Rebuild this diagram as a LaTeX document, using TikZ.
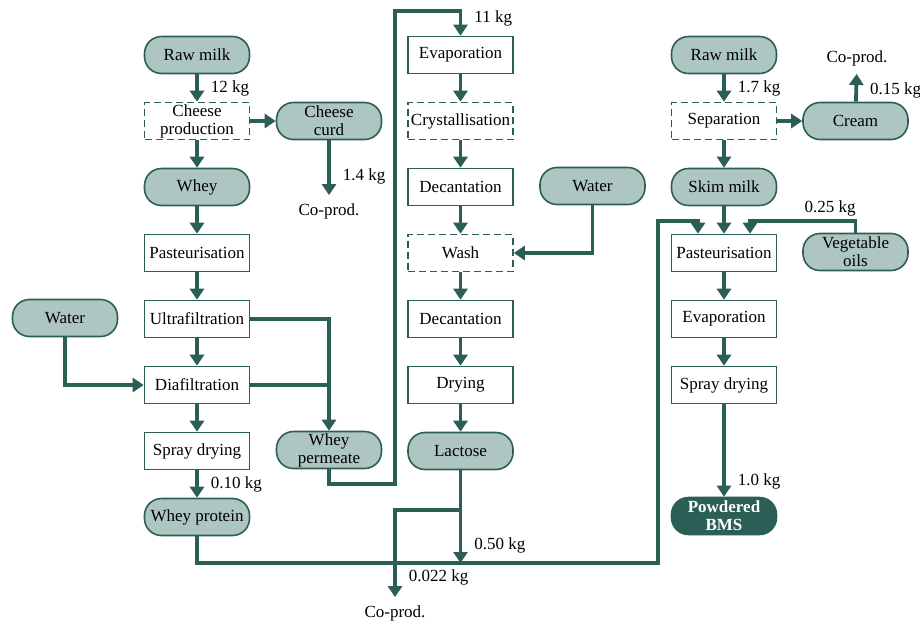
\documentclass[tikz,border=0pt]{standalone}
\usepackage{fontspec}
\setmainfont{Liberation Serif}
\usetikzlibrary{positioning,arrows.meta}
\definecolor{dkgreen}{HTML}{2B5E55}
\definecolor{ltgreen}{HTML}{AEC6C1}

\begin{document}
\begin{tikzpicture}[x=1pt, y=-1pt, node distance=66pt, on grid,
    every node/.style={font=\fontsize{17}{18}\selectfont},
    proc/.style={draw=dkgreen, line width=1.6pt, fill=white, minimum width=105pt, minimum height=37pt, inner sep=1pt, align=center},
    dproc/.style={proc, dash pattern=on 7pt off 4pt},
    mat/.style={proc, fill=ltgreen, rounded corners=17pt},
    final/.style={mat, fill=dkgreen, text=white, font=\fontsize{17}{18}\selectfont\bfseries},
    coprod/.style={inner sep=8pt},
    qty/.style={right, inner sep=1pt, xshift=11pt},
    flow/.style={draw=dkgreen, line width=3.8pt, -{Triangle[length=11pt, width=14pt]}},
    pipe/.style={draw=dkgreen, line width=3.8pt}]
    \useasboundingbox (0,0) rectangle (920,625);

    % whey column
    \node[mat] at (197,55) (rm1) {Raw milk};
    \node[dproc, below = of rm1] (cp) {Cheese\\production};
    \node[mat, below = of cp] (wh) {Whey};
    \node[proc, below = of wh] (past1) {Pasteurisation};
    \node[proc, below = of past1] (uf) {Ultrafiltration};
    \node[proc, below = of uf] (df) {Diafiltration};
    \node[proc, below = of df] (sd1) {Spray drying};
    \node[mat, below = of sd1] (wp) {Whey protein};
    \node[mat, right = 132pt of cp] (curd) {Cheese\\curd};
    \node[coprod] at (329,211) (cop1) {Co-prod.};
    \node[mat] at (65,318) (w1) {Water};
    \node[mat] at (329,450) (wperm) {Whey\\permeate};

    % lactose column
    \node[proc] at (460.5,55) (ev1) {Evaporation};
    \node[dproc, below = of ev1] (cr) {Crystallisation};
    \node[proc, below = of cr] (dc1) {Decantation};
    \node[dproc, below = of dc1] (wash) {Wash};
    \node[proc, below = of wash] (dc2) {Decantation};
    \node[proc, below = of dc2] (dr) {Drying};
    \node[mat, below = of dr] (lac) {Lactose};
    \node[mat] at (592.5,186) (w2) {Water};
    \node[coprod] at (395,613) (cop3) {Co-prod.};

    % milk column
    \node[mat] at (724,55) (rm2) {Raw milk};
    \node[dproc, below = of rm2] (sep) {Separation};
    \node[mat, below = of sep] (skim) {Skim milk};
    \node[proc, below = of skim] (past2) {Pasteurisation};
    \node[proc, below = of past2] (ev2) {Evaporation};
    \node[proc, below = of ev2] (sd2) {Spray drying};
    \node[final] at (724,516) (bms) {Powdered\\BMS};
    \node[mat, right = 131.5pt of sep] (cream) {Cream};
    \node[mat] at (855.5,252) (veg) {Vegetable\\oils};
    \node[coprod] at (857,58) (cop2) {Co-prod.};

    \coordinate (c1) at (395,484);
    \coordinate (c2) at (395,11);
    \coordinate (jl) at (460.5,510);
    \coordinate (m2) at (658,563);
    \coordinate (m3) at (658,221);
    \coordinate (p2l) at ([xshift=-26pt]past2.north);
    \coordinate (p2r) at ([xshift=26pt]past2.north);
    \coordinate (vj) at (p2r |- m3);

    \draw[flow] (rm1) -- node[qty] {12 kg} (cp);
    \draw[flow] (cp) -- (wh);
    \draw[flow] (cp) -- (curd);
    \draw[flow] (curd) -- node[qty, pos=.66] {1.4 kg} (cop1);
    \draw[flow] (wh) -- (past1);
    \draw[flow] (past1) -- (uf);
    \draw[flow] (uf) -- (df);
    \draw[flow] (df) -- (sd1);
    \draw[flow] (sd1) -- node[qty] {0.10 kg} (wp);
    \draw[flow] (w1) |- (df);
    \draw[flow] (uf) -| (wperm);
    \draw[pipe] (df) -- (df -| wperm);
    \draw[flow] (wperm) |- (c1) -- (c2) -| node[qty, pos=.65] {11 kg} (ev1);

    \draw[flow] (ev1) -- (cr);
    \draw[flow] (cr) -- (dc1);
    \draw[flow] (dc1) -- (wash);
    \draw[flow] (w2) |- (wash);
    \draw[flow] (wash) -- (dc2);
    \draw[flow] (dc2) -- (dr);
    \draw[flow] (dr) -- (lac);
    \draw[pipe] (lac) -- (jl);
    \draw[flow] (wp) |- (m2) -- (m3) -| (p2l);
    \draw[flow] (jl) -- node[qty, pos=.66] {0.50 kg} (jl |- m2);
    \draw[flow] (jl) -| node[qty, pos=.885] {0.022 kg} (cop3);

    \draw[flow] (rm2) -- node[qty] {1.7 kg} (sep);
    \draw[flow] (sep) -- (cream);
    \draw[flow] (cream) -- node[qty, pos=.4] {0.15 kg} (cop2);
    \draw[flow] (sep) -- (skim);
    \draw[flow] (skim) -- (past2);
    \draw[flow] (veg) |- node[above, pos=.62] {0.25 kg} (vj) -- (p2r);
    \draw[flow] (past2) -- (ev2);
    \draw[flow] (ev2) -- (sd2);
    \draw[flow] (sd2) -- node[qty, pos=.84] {1.0 kg} (bms);
\end{tikzpicture}
\end{document}
